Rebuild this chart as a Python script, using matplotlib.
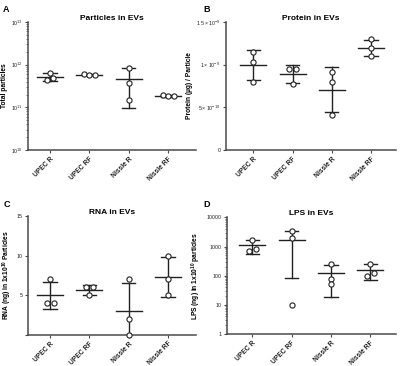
import numpy as np
import matplotlib
matplotlib.use("Agg")
import matplotlib.pyplot as plt
from matplotlib.ticker import LogLocator, NullFormatter

plt.rcParams['font.family'] = ['Liberation Sans', 'DejaVu Sans']
plt.rcParams['mathtext.fontset'] = 'custom'
plt.rcParams['mathtext.rm'] = 'Liberation Sans'
plt.rcParams['mathtext.bf'] = 'Liberation Sans:bold'

groups = ['UPEC R', 'UPEC RF', 'Nissle R', 'Nissle RF']

# replicate values
particles = [[6.3e11, 5.0e11, 4.3e11],
             [6.0e11, 5.7e11, 5.7e11],
             [8.5e11, 3.7e11, 1.5e11],
             [2.0e11, 1.8e11, 1.8e11]]
protein = [[1.145e-9, 1.028e-9, 0.80e-9],
           [0.95e-9, 0.95e-9, 0.77e-9],
           [0.918e-9, 0.793e-9, 0.41e-9],
           [1.297e-9, 1.19e-9, 1.10e-9]]
rna = [[7, 4, 4],
       [6, 6, 5],
       [7, 2, 0],
       [10, 7, 5]]
lps = [[1700, 730, 850],
       [3300, 1900, 10],
       [250, 80, 50],
       [260, 120, 95]]

# horizontal scatter of the points (style)
jit_a = [[0, 0.08, -0.08], [-0.14, 0, 0.14], [0, 0, 0], [-0.14, 0, 0.14]]
jit_b = [[0, 0, 0], [-0.09, 0.09, 0], [0, 0, 0], [0, 0, 0]]
jit_c = [[0, -0.07, 0.1], [-0.09, 0.09, 0], [0, 0, 0], [0, 0, 0]]
jit_d = [[0, -0.08, 0.08], [0, 0, 0], [0, 0, 0], [0, 0.08, -0.08]]

fig = plt.figure(figsize=(4.0, 3.66), dpi=100)

axcol = '#4a4a4a'
lw = 1.0


def panel(rect, data, jit, title, ylabel, xlim, log=False):
    ax = fig.add_axes(rect)
    x = np.arange(len(groups))
    for i, vals in enumerate(data):
        vals = np.array(vals, dtype=float)
        m = vals.mean()
        sd = vals.std(ddof=1)
        ax.plot([i, i], [m - sd, m + sd], color='#222222', lw=lw, zorder=2)
        ax.plot([i - 0.33, i + 0.33], [m, m], color='#222222', lw=lw, zorder=2)
        for e in (m - sd, m + sd):
            ax.plot([i - 0.17, i + 0.17], [e, e], color='#222222', lw=lw, zorder=2)
        ax.scatter(i + np.array(jit[i]), vals, s=14, facecolor='white',
                   edgecolor='#222222', linewidth=0.8, zorder=3, clip_on=False)
    if log:
        ax.set_yscale('log')
    ax.set_xlim(*xlim)
    ax.set_xticks(x)
    ax.set_xticklabels(groups, rotation=45, ha='right', rotation_mode='anchor',
                       fontsize=4.8, fontweight='bold')
    ax.set_title(title, fontsize=6, fontweight='bold', pad=-2)
    ax.set_ylabel(ylabel, fontsize=4.8, fontweight='bold', labelpad=2)
    for s in ['top', 'right']:
        ax.spines[s].set_visible(False)
    for s in ['left', 'bottom']:
        ax.spines[s].set_color(axcol)
        ax.spines[s].set_linewidth(1.1)
    ax.tick_params(axis='both', colors=axcol, width=0.8, length=2.5,
                   labelcolor='#222222', pad=1.5)
    ax.tick_params(axis='y', labelsize=3.8)
    return ax


axA = panel([0.07, 0.59, 0.42, 0.35], particles, jit_a, 'Particles in EVs',
            'Total particles', (-0.56, 3.71), log=True)
axA.set_ylim(1e10, 1e13)
axA.set_yticks([1e10, 1e11, 1e12, 1e13])
axA.yaxis.set_minor_locator(LogLocator(base=10, subs=np.arange(2, 10)))
axA.yaxis.set_minor_formatter(NullFormatter())
axA.tick_params(axis='y', which='minor', length=1.3, width=0.5, colors=axcol)

axB = panel([0.565, 0.59, 0.425, 0.35], protein, jit_b, 'Protein in EVs',
            'Protein (µg) / Particle', (-0.70, 3.64))
axB.set_ylim(0, 1.5e-9)
axB.set_yticks([0, 5e-10, 1e-9, 1.5e-9])
axB.set_yticklabels(['0', r'$5\times10^{-10}$', r'$1\times10^{-9}$', r'$1.5\times10^{-9}$'])

axC = panel([0.07, 0.0855, 0.42, 0.3235], rna, jit_c, 'RNA in EVs',
            r'RNA (ng) in 1x10$^{\mathbf{10}}$ Particles', (-0.56, 3.71))
axC.set_ylim(0, 15)
axC.set_yticks([0, 5, 10, 15])
axC.set_yticklabels(['', '5', '10', '15'])

axD = panel([0.567, 0.0874, 0.423, 0.3186], lps, jit_d, 'LPS in EVs',
            r'LPS (ng) in 1x10$^{\mathbf{10}}$ particles', (-0.65, 3.65), log=True)
axD.set_ylim(1, 10000)
axD.set_yticks([1, 10, 100, 1000, 10000])
axD.set_yticklabels(['1', '10', '100', '1000', '10000'])
axD.yaxis.set_minor_formatter(NullFormatter())
axD.tick_params(axis='y', which='minor', length=1.3, width=0.5, colors=axcol)

for lab, xx, yy in [('A', 0.008, 0.975), ('B', 0.508, 0.975),
                    ('C', 0.008, 0.44), ('D', 0.508, 0.44)]:
    fig.text(xx, yy, lab, fontsize=6.5, fontweight='bold', va='center')

fig.savefig('out.png', dpi=100)
